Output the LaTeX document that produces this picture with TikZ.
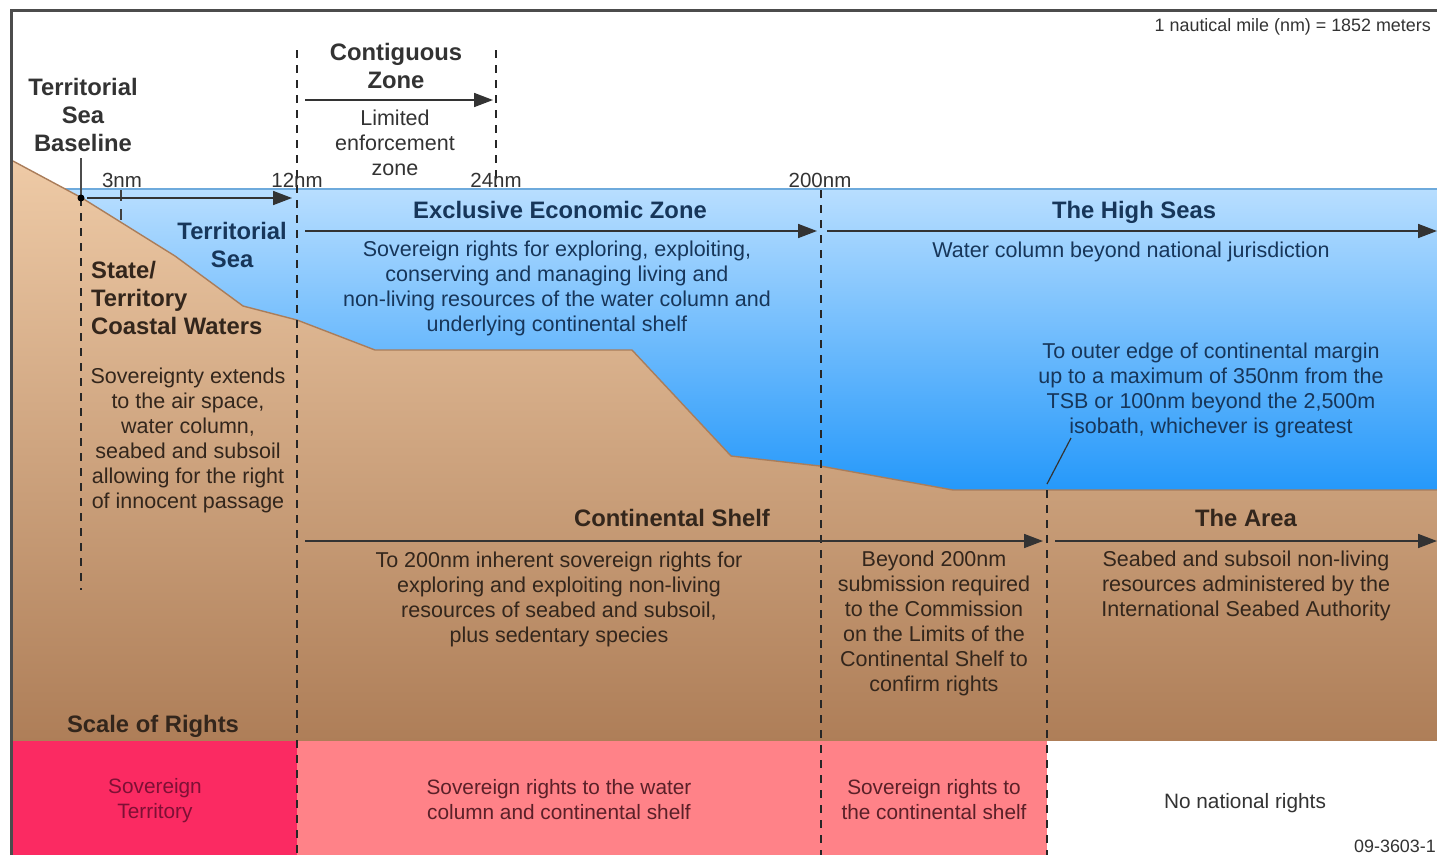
\documentclass[tikz,border=0pt]{standalone}
\usepackage{fontspec}
\setmainfont{Liberation Sans}
\usetikzlibrary{arrows.meta}
\definecolor{txtwhite}{HTML}{333333}
\definecolor{txtsea}{HTML}{17365A}
\definecolor{txtland}{HTML}{33261C}
\definecolor{txtred}{HTML}{7E1035}
\definecolor{txtpink}{HTML}{5A2028}
\definecolor{sovred}{HTML}{FB2A62}
\definecolor{sovpink}{HTML}{FF8288}
\tikzset{
  body/.style={inner sep=0pt,align=center,font=\fontsize{21.5}{25}\selectfont},
  rights/.style={inner sep=0pt,align=center,font=\fontsize{20.8}{25}\selectfont},
  mark label/.style={inner sep=0pt,align=center,font=\fontsize{20.5}{25}\selectfont},
  head/.style={inner sep=0pt,align=center,font=\fontsize{23.8}{28}\selectfont\bfseries},
  tiny/.style={inner sep=0pt,font=\fontsize{17.9}{20}\selectfont,text=txtwhite},
  zonedash/.style={draw=black!85,line width=2pt,dash pattern=on 8pt off 7pt},
  zonearrow/.style={draw=black!80,line width=1.7pt,-{Triangle[length=19pt,width=14pt]}}
}
\begin{document}
\begin{tikzpicture}[x=1pt,y=-1pt]
\useasboundingbox (0,0) rectangle (1437,855);
\clip (0,0) rectangle (1437,855);
\fill[white] (0,0) rectangle (1437,855);
% sea and land
\shade[top color={rgb,255:red,184;green,222;blue,255},bottom color={rgb,255:red,36;green,152;blue,250}] (13,189) rectangle (1437,492);
\draw[color={rgb,255:red,110;green,170;blue,220},line width=1.2pt] (13,189) -- (1437,189);
\shade[top color={rgb,255:red,238;green,202;blue,166},bottom color={rgb,255:red,174;green,126;blue,88}]
  (13,161) -- (82,198) -- (175,256) -- (243,306) -- (297,320) -- (375,350) -- (632,350) -- (731,456) -- (820,466) -- (953,490) -- (1437,490) -- (1437,741) -- (13,741) -- cycle;
\draw[color={rgb,255:red,170;green,125;blue,90},line width=1.4pt]
  (13,161) -- (82,198) -- (175,256) -- (243,306) -- (297,320) -- (375,350) -- (632,350) -- (731,456) -- (820,466) -- (953,490) -- (1437,490);
% rights strip
\fill[sovred] (13,741) rectangle (297,855);
\fill[sovpink] (297,741) rectangle (1047,855);
\fill[white] (1047,741) rectangle (1437,855);
% frame
\draw[color=black!70,line width=3pt] (11,855) -- (11,10) -- (1437,10);
% named end points
\coordinate (base0) at (81,158);
\coordinate (baseP) at (81,198);
\coordinate (baseE) at (81,590);
\coordinate (t3a) at (121,190);
\coordinate (t3b) at (121,220);
\coordinate (d12a) at (297,50);
\coordinate (d12b) at (297,855);
\coordinate (d24a) at (496,50);
\coordinate (d24b) at (496,187);
\coordinate (d200a) at (821,190);
\coordinate (d200b) at (821,855);
\coordinate (dOa) at (1047,490);
\coordinate (dOb) at (1047,855);
\coordinate (aTS0) at (87,198);
\coordinate (aTS1) at (292,198);
\coordinate (aCZ0) at (305,100);
\coordinate (aCZ1) at (493,100);
\coordinate (aE0) at (305,231);
\coordinate (aE1) at (817,231);
\coordinate (aH0) at (827,231);
\coordinate (aH1) at (1437,231);
\coordinate (aS0) at (305,541);
\coordinate (aS1) at (1043,541);
\coordinate (aA0) at (1055,541);
\coordinate (aA1) at (1437,541);
\coordinate (lead0) at (1047,484);
\coordinate (lead1) at (1071,438);
% lines
\draw[zonedash] (baseP) -- (baseE);
\draw[zonedash] (d12a) -- (d12b);
\draw[zonedash] (d24a) -- (d24b);
\draw[zonedash] (d200a) -- (d200b);
\draw[zonedash] (dOa) -- (dOb);
\draw[color=black!70,line width=1.4pt] (base0) -- (baseP);
\fill[black] (baseP) circle (3.5pt);
\draw[color=black!75,line width=1.5pt,dash pattern=on 11pt off 8pt] (t3a) -- (t3b);
\draw[zonearrow] (aTS0) -- (aTS1);
\draw[zonearrow] (aCZ0) -- (aCZ1);
\draw[zonearrow] (aE0) -- (aE1);
\draw[zonearrow] (aH0) -- (aH1);
\draw[zonearrow] (aS0) -- (aS1);
\draw[zonearrow] (aA0) -- (aA1);
\draw[color=black!80,line width=1.2pt] (lead0) -- (lead1);
% texts
\node[tiny,anchor=east] (nmdef) at (1431,27) {1 nautical mile (nm) = 1852 meters};
\node[head,text=txtwhite] (tsb) at (83,115) {Territorial\\Sea\\Baseline};
\node[head,text=txtwhite] (cz) at (396,66) {Contiguous\\Zone};
\node[body,text=txtwhite] (czt) at (395,143) {Limited\\enforcement\\zone};
\node[mark label,text=txtwhite] (n3) at (122,180) {3nm};
\node[mark label,text=txtwhite] (n12) at (297,180) {12nm};
\node[mark label,text=txtwhite] (n24) at (496,180) {24nm};
\node[mark label,text=txtwhite] (n200) at (820,180) {200nm};
\node[head,text=txtsea] (eez) at (560,210) {Exclusive Economic Zone};
\node[head,text=txtsea] (hs) at (1134,212) {The High Seas};
\node[head,text=txtsea,align=center,anchor=east] (ts) at (287,245) {Territorial\\Sea};
\node[body,text=txtsea] (eezt) at (557,288) {Sovereign rights for exploring, exploiting,\\conserving and managing living and\\non-living resources of the water column and\\underlying continental shelf};
\node[body,text=txtsea] (hst) at (1131,252) {Water column beyond national jurisdiction};
\node[body,text=txtsea] (ext) at (1211,390) {To outer edge of continental margin\\up to a maximum of 350nm from the\\TSB or 100nm beyond the 2,500m\\isobath, whichever is greatest};
\node[head,text=txtland,align=left,anchor=west] (scw) at (91,298) {State/\\Territory\\Coastal Waters};
\node[body,text=txtland] (scwt) at (188,440) {Sovereignty extends\\to the air space,\\water column,\\seabed and subsoil\\allowing for the right\\of innocent passage};
\node[head,text=txtland] (csh) at (672,518) {Continental Shelf};
\node[head,text=txtland] (area) at (1246,518) {The Area};
\node[body,text=txtland] (cst) at (559,599) {To 200nm inherent sovereign rights for\\exploring and exploiting non-living\\resources of seabed and subsoil,\\plus sedentary species};
\node[body,text=txtland] (bst) at (934,623) {Beyond 200nm\\submission required\\to the Commission\\on the Limits of the\\Continental Shelf to\\confirm rights};
\node[body,text=txtland] (areat) at (1246,586) {Seabed and subsoil non-living\\resources administered by the\\International Seabed Authority};
\node[head,text=txtland] (scale) at (153,726) {Scale of Rights};
\node[rights,text=txtred] (r1) at (155,801) {Sovereign\\Territory};
\node[rights,text=txtpink] (r2) at (559,800) {Sovereign rights to the water\\column and continental shelf};
\node[rights,text=txtpink] (r3) at (934,800) {Sovereign rights to\\the continental shelf};
\node[rights,text=txtwhite] (r4) at (1245,803) {No national rights};
\node[tiny,anchor=east] (code) at (1436,846) {09-3603-1};
\end{tikzpicture}
\end{document}
